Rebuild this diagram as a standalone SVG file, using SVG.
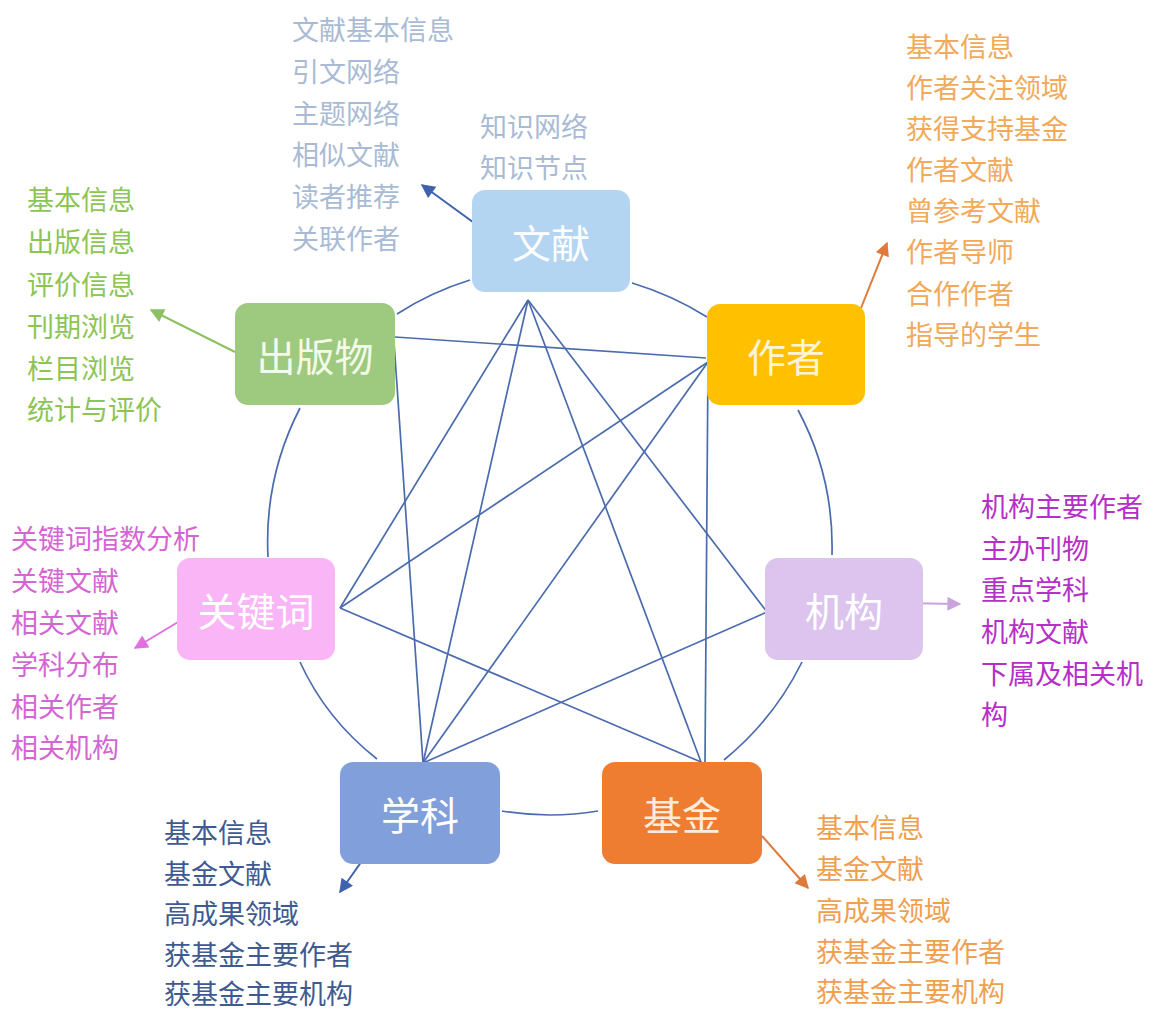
<svg xmlns="http://www.w3.org/2000/svg" width="1160" height="1010" viewBox="0 0 1160 1010">
<style>
.box{stroke:none}
.nl{font-family:"Noto Sans CJK SC","Noto Sans",sans-serif;font-size:39px;text-anchor:middle;dominant-baseline:central}
.lb{font-family:"Noto Sans CJK SC","Noto Sans",sans-serif;font-size:27px;dominant-baseline:central}
.ln{fill:none;stroke:#4A6BAE;stroke-width:1.7}
.ar{fill:none;stroke-width:2}
</style>
<defs>
<marker id="mBlue" viewBox="0 0 10 10" refX="9" refY="5" markerWidth="16" markerHeight="14" markerUnits="userSpaceOnUse" orient="auto"><path d="M0,0 L10,5 L0,10 z" fill="#3F62AC"/></marker>
<marker id="mOrange" viewBox="0 0 10 10" refX="9" refY="5" markerWidth="16" markerHeight="14" markerUnits="userSpaceOnUse" orient="auto"><path d="M0,0 L10,5 L0,10 z" fill="#E07A3A"/></marker>
<marker id="mGreen" viewBox="0 0 10 10" refX="9" refY="5" markerWidth="16" markerHeight="14" markerUnits="userSpaceOnUse" orient="auto"><path d="M0,0 L10,5 L0,10 z" fill="#8DC063"/></marker>
<marker id="mPink" viewBox="0 0 10 10" refX="9" refY="5" markerWidth="16" markerHeight="14" markerUnits="userSpaceOnUse" orient="auto"><path d="M0,0 L10,5 L0,10 z" fill="#E070E0"/></marker>
<marker id="mPurple" viewBox="0 0 10 10" refX="9" refY="5" markerWidth="16" markerHeight="14" markerUnits="userSpaceOnUse" orient="auto"><path d="M0,0 L10,5 L0,10 z" fill="#C9A2DE"/></marker>
</defs>
<rect width="1160" height="1010" fill="#FFFFFF"/>

<g id="connectors">
  <!-- outer ring arcs -->
  <path class="ln" d="M470,280 Q431,292 397,314"/>
  <path class="ln" d="M632,283 Q672,295 707,317"/>
  <path class="ln" d="M798,410 Q834,477 832,555"/>
  <path class="ln" d="M802,662 Q774,719 724,760"/>
  <path class="ln" d="M598,811 Q550,819 502,811"/>
  <path class="ln" d="M377,759 Q326,719 300,662"/>
  <path class="ln" d="M268,557 Q264,478 300,408"/>
  <!-- inner links -->
  <path class="ln" d="M395,337 L706,358"/>
  <path class="ln" d="M394,342 L423,763"/>
  <path class="ln" d="M528,300 L340,608"/>
  <path class="ln" d="M528,300 L423,763"/>
  <path class="ln" d="M528,300 L701,762"/>
  <path class="ln" d="M528,300 L767,612"/>
  <path class="ln" d="M708,362 L340,608"/>
  <path class="ln" d="M708,362 L423,763"/>
  <path class="ln" d="M708,362 L705,762"/>
  <path class="ln" d="M340,608 L701,762"/>
  <path class="ln" d="M767,612 L423,763"/>
  <!-- detail arrows -->
  <path class="ar" stroke="#3F62AC" d="M477,225 L422,185" marker-end="url(#mBlue)"/>
  <path class="ar" stroke="#E07A3A" d="M857,318 L887,243" marker-end="url(#mOrange)"/>
  <path class="ar" stroke="#8DC063" d="M235,352 L151,310" marker-end="url(#mGreen)"/>
  <path class="ar" stroke="#E070E0" d="M193,613 L135,648" marker-end="url(#mPink)"/>
  <path class="ar" stroke="#C9A2DE" d="M898,603 L960,604" marker-end="url(#mPurple)"/>
  <path class="ar" stroke="#3F62AC" d="M381,834 L340,892" marker-end="url(#mBlue)"/>
  <path class="ar" stroke="#E07A3A" d="M762,836 L808,888" marker-end="url(#mOrange)"/>
</g>

<g id="node-wenxian">
  <rect class="box" x="472" y="190" width="158" height="102" rx="13" fill="#B3D5F1"/>
  <text class="nl" x="551" y="241" fill="#FFFFFF">文献</text>
  <text class="lb" fill="#A9BBD4">
    <tspan x="292" y="28">文献基本信息</tspan>
    <tspan x="292" y="70">引文网络</tspan>
    <tspan x="292" y="112">主题网络</tspan>
    <tspan x="292" y="153">相似文献</tspan>
    <tspan x="292" y="195">读者推荐</tspan>
    <tspan x="292" y="237">关联作者</tspan>
  </text>
  <text class="lb" fill="#A9BBD4">
    <tspan x="480" y="125">知识网络</tspan>
    <tspan x="480" y="166">知识节点</tspan>
  </text>
</g>

<g id="node-zuozhe">
  <rect class="box" x="707" y="304" width="158" height="101" rx="13" fill="#FFC000"/>
  <text class="nl" x="786" y="355" fill="#FFF3D6">作者</text>
  <text class="lb" fill="#F1A95A">
    <tspan x="906" y="45">基本信息</tspan>
    <tspan x="906" y="86">作者关注领域</tspan>
    <tspan x="906" y="127">获得支持基金</tspan>
    <tspan x="906" y="168">作者文献</tspan>
    <tspan x="906" y="209">曾参考文献</tspan>
    <tspan x="906" y="250">作者导师</tspan>
    <tspan x="906" y="292">合作作者</tspan>
    <tspan x="906" y="333">指导的学生</tspan>
  </text>
</g>

<g id="node-chubanwu">
  <rect class="box" x="235" y="303" width="160" height="102" rx="13" fill="#9ECA80"/>
  <text class="nl" x="315" y="354" fill="#F2FBE8">出版物</text>
  <text class="lb" fill="#8CC553">
    <tspan x="27" y="198">基本信息</tspan>
    <tspan x="27" y="240">出版信息</tspan>
    <tspan x="27" y="283">评价信息</tspan>
    <tspan x="27" y="325">刊期浏览</tspan>
    <tspan x="27" y="367">栏目浏览</tspan>
    <tspan x="27" y="408">统计与评价</tspan>
  </text>
</g>

<g id="node-guanjianci">
  <rect class="box" x="177" y="558" width="158" height="102" rx="13" fill="#F9B5F5"/>
  <text class="nl" x="256" y="609" fill="#FFFFFF">关键词</text>
  <text class="lb" fill="#D466D4">
    <tspan x="11" y="537">关键词指数分析</tspan>
    <tspan x="11" y="579">关键文献</tspan>
    <tspan x="11" y="621">相关文献</tspan>
    <tspan x="11" y="663">学科分布</tspan>
    <tspan x="11" y="705">相关作者</tspan>
    <tspan x="11" y="746">相关机构</tspan>
  </text>
</g>

<g id="node-jigou">
  <rect class="box" x="765" y="558" width="158" height="102" rx="13" fill="#DCC4EE"/>
  <text class="nl" x="844" y="609" fill="#FFFFFF">机构</text>
  <text class="lb" fill="#B52FC8">
    <tspan x="981" y="505">机构主要作者</tspan>
    <tspan x="981" y="547">主办刊物</tspan>
    <tspan x="981" y="588">重点学科</tspan>
    <tspan x="981" y="630">机构文献</tspan>
    <tspan x="981" y="672">下属及相关机</tspan>
    <tspan x="981" y="713">构</tspan>
  </text>
</g>

<g id="node-xueke">
  <rect class="box" x="340" y="762" width="160" height="102" rx="13" fill="#819FDA"/>
  <text class="nl" x="420" y="813" fill="#FFFFFF">学科</text>
  <text class="lb" fill="#3E5A90">
    <tspan x="164" y="831">基本信息</tspan>
    <tspan x="164" y="872">基金文献</tspan>
    <tspan x="164" y="912">高成果领域</tspan>
    <tspan x="164" y="953">获基金主要作者</tspan>
    <tspan x="164" y="992">获基金主要机构</tspan>
  </text>
</g>

<g id="node-jijin">
  <rect class="box" x="602" y="762" width="160" height="102" rx="13" fill="#EE7D31"/>
  <text class="nl" x="682" y="813" fill="#FDEBDD">基金</text>
  <text class="lb" fill="#EFA04F">
    <tspan x="816" y="826">基本信息</tspan>
    <tspan x="816" y="867">基金文献</tspan>
    <tspan x="816" y="909">高成果领域</tspan>
    <tspan x="816" y="950">获基金主要作者</tspan>
    <tspan x="816" y="990">获基金主要机构</tspan>
  </text>
</g>
</svg>
